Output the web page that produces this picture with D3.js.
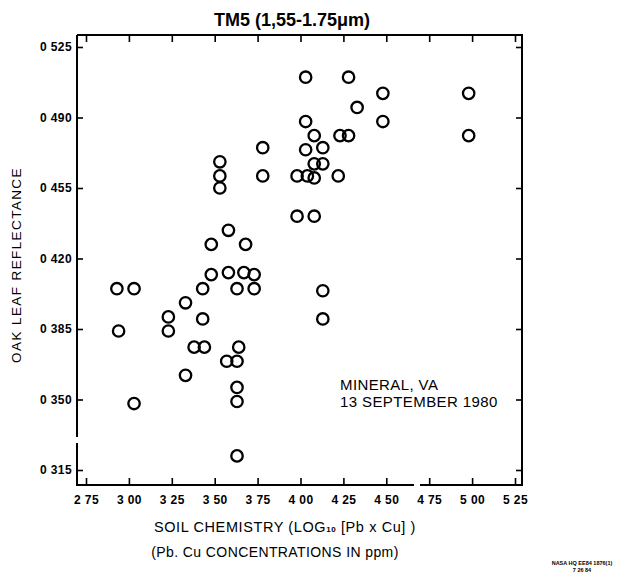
<!DOCTYPE html>
<html>
<head>
<meta charset="utf-8">
<script src="https://cdn.jsdelivr.net/npm/d3@7"></script>
<style>
  body { margin: 0; background: #fff; }
  svg { display: block; }
  .tick text { font-family: "Liberation Sans", Arial, sans-serif; font-weight: bold; font-size: 12px; letter-spacing: 0.4px; fill: #000; }
  .tick line { stroke: #000; stroke-width: 1.6; }
</style>
</head>
<body>
<div id="chart"></div>
<script>
// soil chemistry (log10 [Pb x Cu]) vs oak leaf reflectance
const soilChem = [
  2.93, 3.03, 2.94, 3.03, 3.23, 3.23, 3.33, 3.43, 3.43, 3.33,
  3.38, 3.44, 3.48, 3.58, 3.67, 3.73, 3.63, 3.73, 3.64, 3.57,
  3.63, 3.63, 3.63, 3.63, 3.48, 3.68, 3.58, 3.53, 3.53, 3.53,
  4.03, 4.28, 4.48, 4.98, 4.33, 4.03, 4.48, 4.08, 4.23, 4.28,
  4.98, 3.78, 4.03, 4.13, 4.08, 4.13, 3.78, 3.98, 4.04, 4.08,
  4.22, 3.98, 4.08, 4.13, 4.13
];
const reflectance = [
  0.405, 0.405, 0.384, 0.348, 0.391, 0.384, 0.398, 0.405, 0.390, 0.362,
  0.376, 0.376, 0.412, 0.413, 0.413, 0.412, 0.405, 0.405, 0.376, 0.369,
  0.369, 0.356, 0.349, 0.322, 0.427, 0.427, 0.434, 0.468, 0.461, 0.455,
  0.510, 0.510, 0.502, 0.502, 0.495, 0.488, 0.488, 0.481, 0.481, 0.481,
  0.481, 0.475, 0.474, 0.475, 0.467, 0.467, 0.461, 0.461, 0.461, 0.460,
  0.461, 0.441, 0.441, 0.404, 0.390
];
const xTicks = [2.75, 3.00, 3.25, 3.50, 3.75, 4.00, 4.25, 4.50, 4.75, 5.00, 5.25];
const yTicks = [0.315, 0.350, 0.385, 0.420, 0.455, 0.490, 0.525];

const svgWidth = 633;
const svgHeight = 579;
const frame = { left: 77, right: 522, top: 35, bottom: 485 };

const drawChart = () => {
  const svg = d3.select("#chart")
    .append("svg")
    .attr("width", svgWidth)
    .attr("height", svgHeight);

  const xScale = d3.scaleLinear().domain([2.75, 5.25]).range([86, 515]);
  const yScale = d3.scaleLinear().domain([0.315, 0.525]).range([470, 47]);

  const xFmt = d => d3.format(".2f")(d).replace(".", " ");
  const yFmt = d => d3.format(".3f")(d).replace(".", " ");

  // bottom + top axes, ticks pointing inward
  svg.append("g")
    .attr("transform", `translate(0,${frame.bottom})`)
    .call(d3.axisBottom(xScale).tickValues(xTicks).tickFormat(xFmt).tickSizeInner(-7).tickSizeOuter(0).tickPadding(10));
  svg.append("g")
    .attr("transform", `translate(0,${frame.top})`)
    .call(d3.axisTop(xScale).tickValues(xTicks).tickFormat("").tickSizeInner(-7).tickSizeOuter(0));

  // left + right axes
  svg.append("g")
    .attr("transform", `translate(${frame.left},0)`)
    .call(d3.axisLeft(yScale).tickValues(yTicks).tickFormat(yFmt).tickSizeInner(-6).tickSizeOuter(0).tickPadding(5));
  svg.append("g")
    .attr("transform", `translate(${frame.right},0)`)
    .call(d3.axisRight(yScale).tickValues(yTicks).tickFormat("").tickSizeInner(-6).tickSizeOuter(0));

  svg.selectAll(".domain").remove();

  // frame, with the small breaks seen in the scan
  const framePaths = [
    [[frame.left, frame.top], [frame.right, frame.top], [frame.right, frame.bottom], [420, frame.bottom]],
    [[414, frame.bottom], [frame.left, frame.bottom], [frame.left, 443]],
    [[frame.left, 437], [frame.left, frame.top]]
  ];
  svg.selectAll("path.frame")
    .data(framePaths)
    .enter()
    .append("path")
    .attr("class", "frame")
    .attr("d", d3.line())
    .attr("fill", "none")
    .attr("stroke", "#000")
    .attr("stroke-width", 2);

  const points = soilChem.map((x, i) => ({ x, y: reflectance[i] }));
  svg.selectAll("circle")
    .data(points)
    .enter()
    .append("circle")
    .attr("cx", d => xScale(d.x))
    .attr("cy", d => yScale(d.y))
    .attr("r", 5.7)
    .attr("fill", "none")
    .attr("stroke", "#000")
    .attr("stroke-width", 2.3);

  const font = "'Liberation Sans', Arial, sans-serif";

  svg.append("text")
    .attr("x", 292)
    .attr("y", 26)
    .attr("text-anchor", "middle")
    .attr("font-family", font)
    .attr("font-weight", "bold")
    .attr("font-size", 18)
    .text("TM5 (1,55-1.75\u03bcm)");

  svg.append("text")
    .attr("transform", "translate(21,265) rotate(-90)")
    .attr("text-anchor", "middle")
    .attr("font-family", font)
    .attr("font-size", 13.5)
    .attr("letter-spacing", 1.4)
    .text("OAK LEAF REFLECTANCE");

  const xTitle = svg.append("text")
    .attr("x", 285)
    .attr("y", 532)
    .attr("text-anchor", "middle")
    .attr("font-family", font)
    .attr("font-size", 14.5)
    .attr("letter-spacing", 0.6);
  xTitle.append("tspan").text("SOIL CHEMISTRY (LOG");
  xTitle.append("tspan").attr("font-size", 8).attr("font-weight", "bold").text("10");
  xTitle.append("tspan").text(" [Pb x Cu] )");

  svg.append("text")
    .attr("x", 275)
    .attr("y", 557)
    .attr("text-anchor", "middle")
    .attr("font-family", font)
    .attr("font-size", 14)
    .attr("letter-spacing", 0.4)
    .text("(Pb. Cu CONCENTRATIONS IN ppm)");

  const note = svg.append("text")
    .attr("font-family", font)
    .attr("font-size", 15)
    .attr("letter-spacing", 0.4);
  note.append("tspan").attr("x", 340).attr("y", 390).text("MINERAL, VA");
  note.append("tspan").attr("x", 340).attr("y", 407).text("13 SEPTEMBER 1980");

  const stamp = svg.append("text")
    .attr("text-anchor", "middle")
    .attr("font-family", font)
    .attr("font-weight", "bold")
    .attr("font-size", 5.5);
  stamp.append("tspan").attr("x", 582).attr("y", 565).text("NASA HQ EE84 1876(1)");
  stamp.append("tspan").attr("x", 582).attr("y", 572).text("7 26 84");
};

const main = () => {
  drawChart();
};

window.onload = main;
</script>
</body>
</html>
